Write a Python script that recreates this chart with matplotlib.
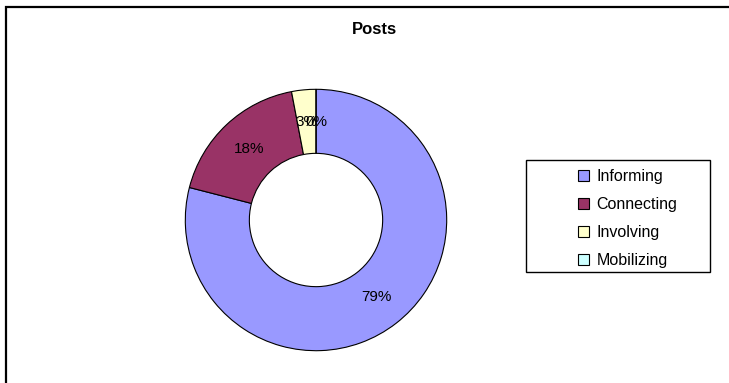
import matplotlib.pyplot as plt
from matplotlib.patches import Rectangle, Patch

plt.rcParams['font.family'] = ['Liberation Sans', 'DejaVu Sans']

# data
categories = ['Informing', 'Connecting', 'Involving', 'Mobilizing']
values = [79, 18, 3, 0]
colors = ['#9999FF', '#993366', '#FFFFCC', '#CCFFFF']
title = 'Posts'

W, H = 729, 383
fig = plt.figure(figsize=(W / 100, H / 100), dpi=100)

# outer chart border (only top and left visible in the crop)
fig.add_artist(Rectangle((6 / W, -0.1), 1.2, (H - 7) / H + 0.1, transform=fig.transFigure,
                         fill=False, edgecolor='black', linewidth=1.6))

# donut axes: centre (316, 220) px, radius 132 px
cx, cy, r = 316, H - 220, 132
ax = fig.add_axes([(cx - r) / W, (cy - r) / H, 2 * r / W, 2 * r / H])
wedges, texts, autotexts = ax.pie(
    values, colors=colors, startangle=90, counterclock=False,
    autopct='%1.0f%%', pctdistance=0.75, radius=1,
    wedgeprops=dict(width=0.49, edgecolor='black', linewidth=0.8),
    textprops=dict(fontsize=11, color='black'))
ax.set_xlim(-1.01, 1.01)
ax.set_ylim(-1.01, 1.01)
ax.set_aspect('equal')
ax.axis('off')

fig.text(374.5 / W, (H - 30) / H, title, ha='center', va='center',
         fontsize=12, fontweight='bold')

# legend box
fig.add_artist(Rectangle((526 / W, (H - 272) / H), 184 / W, 112 / H, transform=fig.transFigure,
                         fill=False, edgecolor='black', linewidth=1.0))
handles = [Patch(facecolor=c, edgecolor='black', linewidth=0.8) for c in colors]
fig.legend(handles, categories, loc='upper left', bbox_to_anchor=(570 / W, (H - 161) / H),
           frameon=False, fontsize=11.5, handlelength=0.7, handleheight=0.7,
           handletextpad=0.45, labelspacing=0.82, borderpad=0)

fig.savefig('out.png', dpi=100)
